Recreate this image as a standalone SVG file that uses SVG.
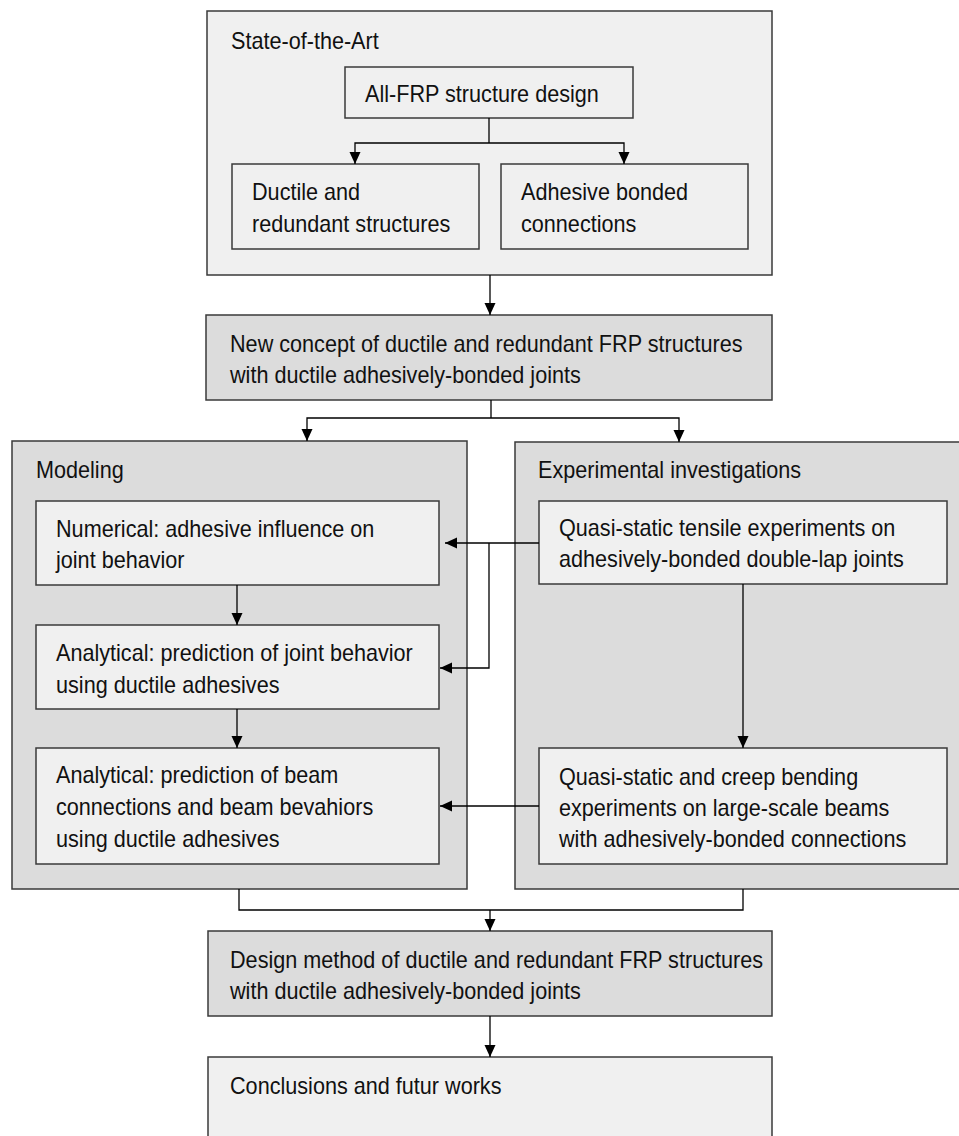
<svg xmlns="http://www.w3.org/2000/svg" width="959" height="1136" viewBox="0 0 959 1136">
<style>
  .light { fill: #f0f0f0; stroke: #3a3a3a; stroke-width: 1.5; }
  .dark { fill: #dcdcdc; stroke: #3a3a3a; stroke-width: 1.5; }
  .lbl { font-family: "Liberation Sans", Arial, sans-serif; font-size: 23px; fill: #111; }
  .conn { fill: none; stroke: #000; stroke-width: 1.3; }
</style>
<defs>
  <marker id="arr" viewBox="0 0 12 12" refX="12" refY="6" markerWidth="12" markerHeight="12" markerUnits="userSpaceOnUse" orient="auto">
    <path d="M0,0.5 L12,6 L0,11.5 Z" fill="#000"/>
  </marker>
</defs>
<rect width="959" height="1136" fill="#fff"/>

<g id="state-of-the-art">
  <rect class="light" x="207" y="11" width="565" height="264"/>
  <text class="lbl" transform="translate(231 49) scale(0.94 1)">State-of-the-Art</text>
</g>
<g id="all-frp">
  <rect class="light" x="345" y="67" width="288" height="51"/>
  <text class="lbl" transform="translate(365 102) scale(0.94 1)">All-FRP structure design</text>
</g>
<g id="ductile">
  <rect class="light" x="232" y="164" width="247" height="85"/>
  <text class="lbl" transform="translate(252 200) scale(0.94 1)">Ductile and</text>
  <text class="lbl" transform="translate(252 232) scale(0.94 1)">redundant structures</text>
</g>
<g id="adhesive">
  <rect class="light" x="501" y="164" width="247" height="85"/>
  <text class="lbl" transform="translate(521 200) scale(0.94 1)">Adhesive bonded</text>
  <text class="lbl" transform="translate(521 232) scale(0.94 1)">connections</text>
</g>
<g id="new-concept">
  <rect class="dark" x="206" y="315" width="566" height="85"/>
  <text class="lbl" transform="translate(230 352) scale(0.94 1)">New concept of ductile and redundant FRP structures</text>
  <text class="lbl" transform="translate(230 383) scale(0.94 1)">with ductile adhesively-bonded joints</text>
</g>
<g id="modeling">
  <rect class="dark" x="12" y="441" width="455" height="448"/>
  <text class="lbl" transform="translate(36 478) scale(0.94 1)">Modeling</text>
</g>
<g id="experimental">
  <rect class="dark" x="515" y="442" width="450" height="447"/>
  <text class="lbl" transform="translate(538 478) scale(0.94 1)">Experimental investigations</text>
</g>
<g id="numerical">
  <rect class="light" x="36" y="501" width="403" height="84"/>
  <text class="lbl" transform="translate(56 537) scale(0.94 1)">Numerical: adhesive influence on</text>
  <text class="lbl" transform="translate(56 568) scale(0.94 1)">joint behavior</text>
</g>
<g id="analytical-joint">
  <rect class="light" x="36" y="625" width="403" height="84"/>
  <text class="lbl" transform="translate(56 661) scale(0.94 1)">Analytical: prediction of joint behavior</text>
  <text class="lbl" transform="translate(56 693) scale(0.94 1)">using ductile adhesives</text>
</g>
<g id="analytical-beam">
  <rect class="light" x="36" y="748" width="403" height="116"/>
  <text class="lbl" transform="translate(56 783) scale(0.94 1)">Analytical: prediction of beam</text>
  <text class="lbl" transform="translate(56 815) scale(0.94 1)">connections and beam bevahiors</text>
  <text class="lbl" transform="translate(56 847) scale(0.94 1)">using ductile adhesives</text>
</g>
<g id="tensile">
  <rect class="light" x="539" y="501" width="408" height="83"/>
  <text class="lbl" transform="translate(559 536) scale(0.94 1)">Quasi-static tensile experiments on</text>
  <text class="lbl" transform="translate(559 567) scale(0.94 1)">adhesively-bonded double-lap joints</text>
</g>
<g id="creep">
  <rect class="light" x="539" y="748" width="408" height="116"/>
  <text class="lbl" transform="translate(559 785) scale(0.94 1)">Quasi-static and creep bending</text>
  <text class="lbl" transform="translate(559 816) scale(0.94 1)">experiments on large-scale beams</text>
  <text class="lbl" transform="translate(559 847) scale(0.94 1)">with adhesively-bonded connections</text>
</g>
<g id="design-method">
  <rect class="dark" x="208" y="931" width="564" height="85"/>
  <text class="lbl" transform="translate(230 968) scale(0.94 1)">Design method of ductile and redundant FRP structures</text>
  <text class="lbl" transform="translate(230 999) scale(0.94 1)">with ductile adhesively-bonded joints</text>
</g>
<g id="conclusions">
  <rect class="light" x="208" y="1057" width="564" height="90"/>
  <text class="lbl" transform="translate(230 1094) scale(0.94 1)">Conclusions and futur works</text>
</g>

<g id="connectors">
  <path class="conn" d="M489,118 V143"/>
  <path class="conn" d="M489,143 H355 V164" marker-end="url(#arr)"/>
  <path class="conn" d="M489,143 H624 V164" marker-end="url(#arr)"/>
  <path class="conn" d="M490,275 V315" marker-end="url(#arr)"/>
  <path class="conn" d="M491,400 V418"/>
  <path class="conn" d="M491,418 H307 V441" marker-end="url(#arr)"/>
  <path class="conn" d="M491,418 H679 V442" marker-end="url(#arr)"/>
  <path class="conn" d="M237,585 V625" marker-end="url(#arr)"/>
  <path class="conn" d="M237,709 V748" marker-end="url(#arr)"/>
  <path class="conn" d="M539,543 H445" marker-end="url(#arr)"/>
  <path class="conn" d="M489,543 V668 H440" marker-end="url(#arr)"/>
  <path class="conn" d="M743,584 V748" marker-end="url(#arr)"/>
  <path class="conn" d="M539,806 H440" marker-end="url(#arr)"/>
  <path class="conn" d="M239,889 V910 H743 V889"/>
  <path class="conn" d="M490,910 V931" marker-end="url(#arr)"/>
  <path class="conn" d="M490,1016 V1057" marker-end="url(#arr)"/>
</g>
</svg>
